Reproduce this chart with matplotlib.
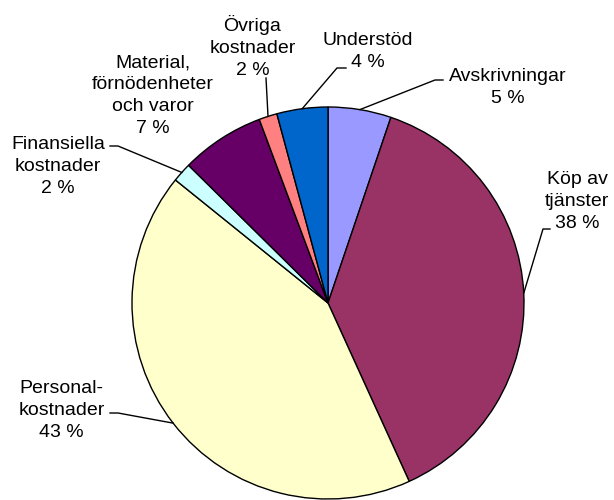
import numpy as np
import matplotlib
matplotlib.use("Agg")
import matplotlib.pyplot as plt

plt.rcParams['font.family'] = ['Liberation Sans', 'DejaVu Sans']

# data (clockwise from 12 o'clock)
names = ["Avskrivningar", "Köp av\ntjänster", "Personal-\nkostnader", "Finansiella\nkostnader",
         "Material,\nförnödenheter\noch varor", "Övriga\nkostnader", "Understöd"]
shares = [5.2, 38.0, 42.6, 1.6, 6.9, 1.5, 4.2]
colors = ["#9999FF", "#993366", "#FFFFCC", "#CCFFFF", "#660066", "#FF8080", "#0066CC"]

# label layout in pixels from top-left: text x, baseline of last line, leader elbow, leader end
label_pos = [(507.5, 103), (577, 228), (61.5, 437), (58, 193), (153, 133), (252.5, 75), (367.5, 67)]
leaders = [[(435, 80), (443, 80)],
           [(543, 229), (550, 229)],
           [(118, 413), (110, 413)],
           [(118, 146), (110, 146)],
           None,
           [(266, 78)],
           [(337, 68), (346, 68)]]

W, H = 614, 500
cx, cy, r = 328, H - 303, 196

fig = plt.figure(figsize=(W / 100, H / 100), dpi=100)
ax = fig.add_axes([0, 0, 1, 1])

wedges, _ = ax.pie(shares, colors=colors, startangle=90, counterclock=False,
                   center=(cx, cy), radius=r, frame=True,
                   wedgeprops=dict(edgecolor='black', linewidth=1.0))
ax.set_xlim(0, W)
ax.set_ylim(0, H)
ax.set_aspect('equal')
ax.axis('off')

for w, name, v, (tx, ty), ld in zip(wedges, names, shares, label_pos, leaders):
    ax.text(tx, H - ty, "%s\n%d %%" % (name, round(v)), ha='center', va='baseline',
            fontsize=14, linespacing=1.38, color='black')
    if ld is None:
        continue
    mid = np.deg2rad((w.theta1 + w.theta2) / 2)
    ax_ = cx + r * np.cos(mid)
    ay_ = cy + r * np.sin(mid)
    xs = [ax_] + [p[0] for p in ld]
    ys = [ay_] + [H - p[1] for p in ld]
    ax.plot(xs, ys, color='black', linewidth=1.0)

fig.savefig("out.png", dpi=100)
